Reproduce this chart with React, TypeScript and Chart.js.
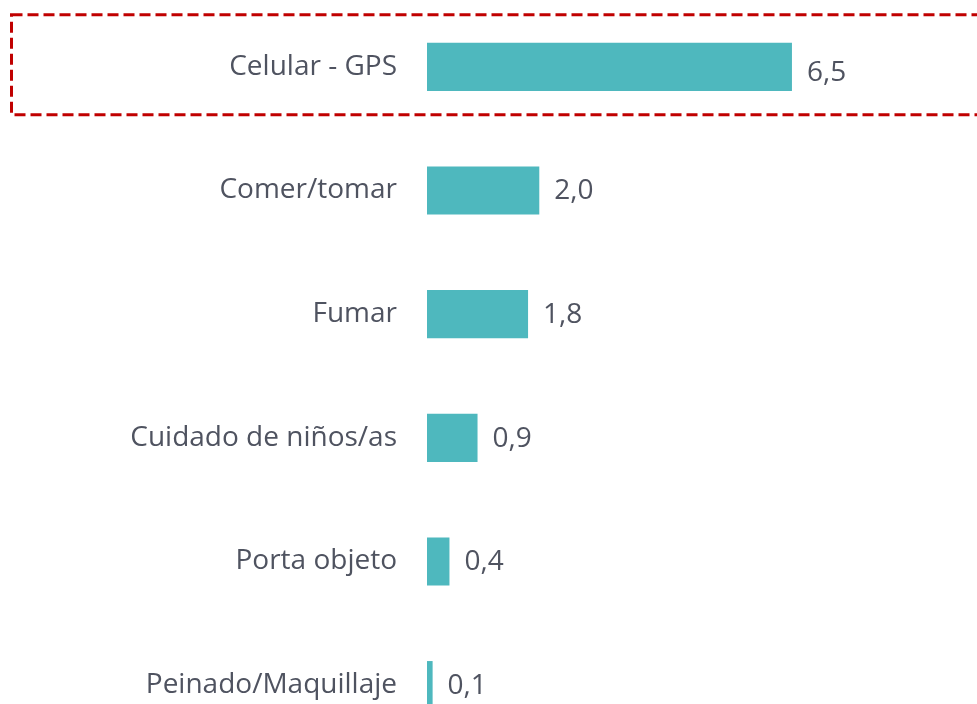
import React, { useEffect, useRef } from "react";
import { Chart, registerables } from "chart.js";

Chart.register(...registerables);

const categories = [
  "Celular - GPS",
  "Comer/tomar",
  "Fumar",
  "Cuidado de niños/as",
  "Porta objeto",
  "Peinado/Maquillaje",
];
const values = [6.5, 2.0, 1.8, 0.9, 0.4, 0.1];
const axisMax = 9.6;

const TEXT = "#4F5360";
const BAR = "#4EB8BE";
const FONT = "'Open Sans', sans-serif";

const valueLabels = {
  id: "valueLabels",
  afterDatasetsDraw(chart: any) {
    const ctx = chart.ctx;
    const meta = chart.getDatasetMeta(0);
    ctx.save();
    ctx.fillStyle = TEXT;
    ctx.font = `28px ${FONT}`;
    ctx.textAlign = "left";
    ctx.textBaseline = "middle";
    meta.data.forEach((el: any, i: number) => {
      const v = chart.data.datasets[0].data[i] as number;
      ctx.fillText(v.toFixed(1).replace(".", ","), el.x + 15, el.y + (i === 0 ? 6 : 1));
    });
    ctx.restore();
  },
};

const highlightBox = {
  id: "highlightBox",
  afterDraw(chart: any) {
    const ctx = chart.ctx;
    const y0 = chart.scales.y.getPixelForValue(0);
    ctx.save();
    ctx.strokeStyle = "#C00000";
    ctx.lineWidth = 3;
    ctx.setLineDash([11, 5]);
    ctx.strokeRect(11.5, y0 - 52, chart.width + 20, 100);
    ctx.restore();
  },
};

export default function App() {
  const ref = useRef<HTMLCanvasElement>(null);
  useEffect(() => {
    document.body.style.margin = "0";
    document.body.style.overflow = "hidden";
    const chart = new Chart(ref.current!, {
      type: "bar",
      data: {
        labels: categories,
        datasets: [
          {
            data: values,
            backgroundColor: BAR,
            barPercentage: 0.39,
            categoryPercentage: 1,
          },
        ],
      },
      options: {
        indexAxis: "y",
        animation: false,
        responsive: false,
        layout: { padding: { top: 5, bottom: 3, left: 0, right: 11 } },
        plugins: { legend: { display: false }, tooltip: { enabled: false } },
        scales: {
          x: { display: false, min: 0, max: axisMax },
          y: {
            grid: { display: false, drawTicks: false },
            border: { display: false },
            ticks: {
              color: TEXT,
              font: { family: FONT, size: 28 },
              padding: 30,
            },
            afterFit(scale: any) {
              scale.width = 427;
              scale.paddingTop = 0;
              scale.paddingBottom = 0;
            },
          },
        },
      },
      plugins: [valueLabels, highlightBox],
    });
    return () => chart.destroy();
  }, []);
  return (
    <div style={{ position: "fixed", left: 0, top: 0, width: 977, height: 704, overflow: "hidden", background: "#fff" }}>
      <canvas ref={ref} width={977} height={750} style={{ display: "block" }} />
    </div>
  );
}
